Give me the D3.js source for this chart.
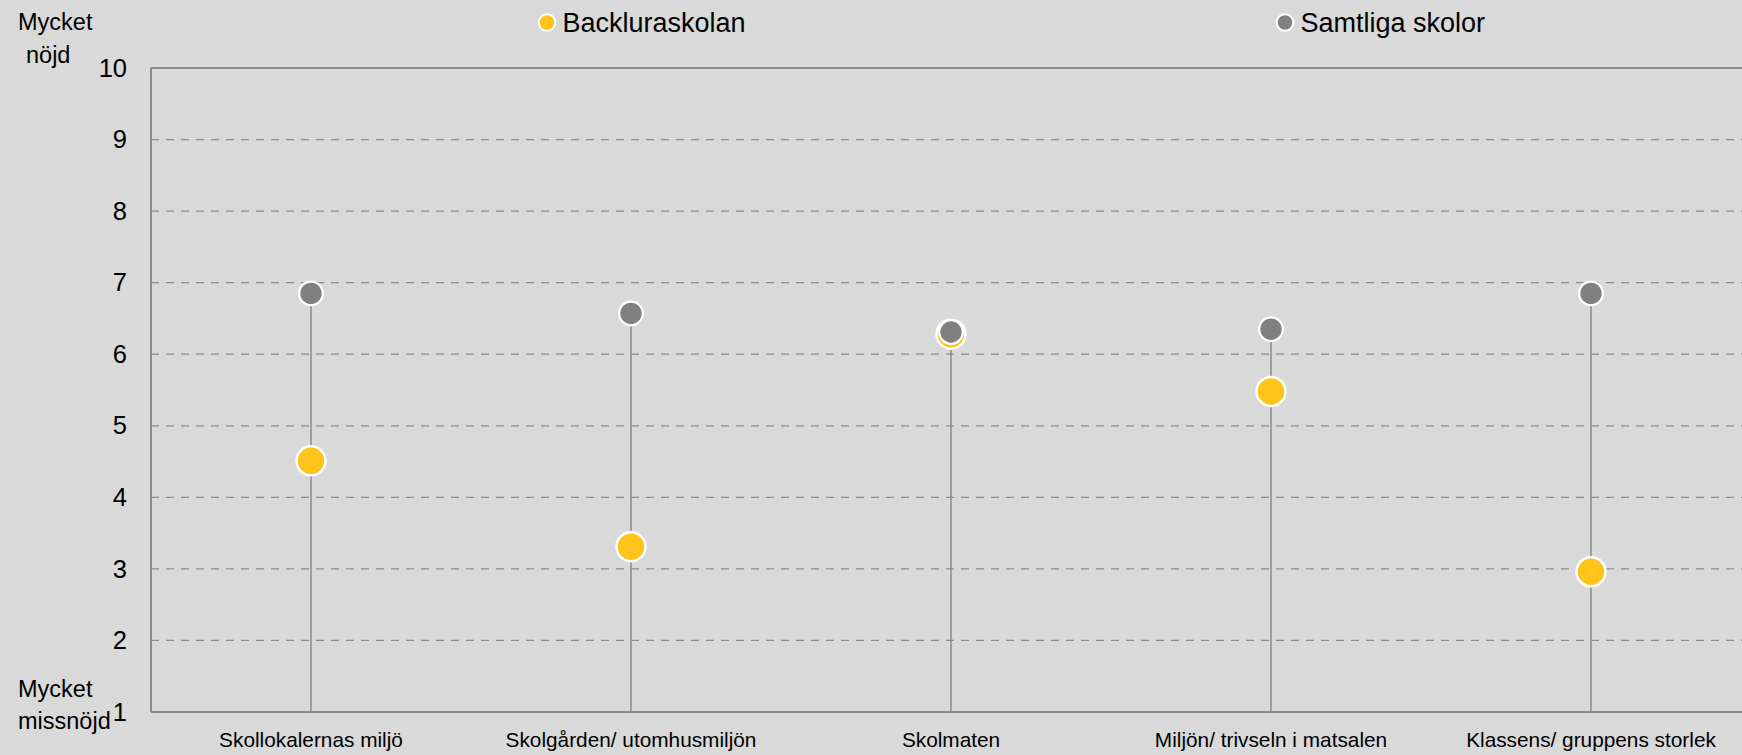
<!DOCTYPE html>
<html>
<head>
<meta charset="utf-8">
<script src="https://cdn.jsdelivr.net/npm/d3@7"></script>
<style>
  html, body { margin: 0; padding: 0; background: #d9d9d9; }
  svg { display: block; font-family: "Liberation Sans", Arial, sans-serif; }
</style>
</head>
<body>
<svg id="chart" width="1742" height="755"></svg>
<script>
const categories = ["Skollokalernas miljö", "Skolgården/ utomhusmiljön", "Skolmaten", "Miljön/ trivseln i matsalen", "Klassens/ gruppens storlek"];
const backluraskolan = [4.51, 3.31, 6.28, 5.48, 2.96];
const samtliga = [6.85, 6.57, 6.31, 6.35, 6.85];
const yTicks = [1, 2, 3, 4, 5, 6, 7, 8, 9, 10];
const seriesNames = ["Backluraskolan", "Samtliga skolor"];
const seriesColors = ["#ffc31a", "#808080"];

(function () {
const W = 1742, H = 755;
const mLeft = 151, mTop = 68, mBottom = 712, mRight = 1751;
const svg = d3.select("#chart");

const x = d3.scaleBand().domain(categories).range([mLeft, mRight]).padding(0);
const y = d3.scaleLinear().domain([1, 10]).range([mBottom, mTop]);

// gridlines (dashed) for 2..9
svg.append("g").selectAll("line")
  .data(yTicks.filter(v => v > 1 && v < 10))
  .join("line")
  .attr("x1", mLeft).attr("x2", W)
  .attr("y1", d => y(d)).attr("y2", d => y(d))
  .attr("stroke", "#8c8c8c").attr("stroke-width", 1.3)
  .attr("stroke-dasharray", "8,7");

// plot frame: top, left, bottom
const frame = svg.append("g").attr("stroke", "#8a8a8a").attr("stroke-width", 2).attr("fill", "none");
frame.append("line").attr("x1", mLeft).attr("x2", W).attr("y1", y(10)).attr("y2", y(10));
frame.append("line").attr("x1", mLeft).attr("x2", mLeft).attr("y1", y(10)).attr("y2", y(1));
frame.append("line").attr("x1", mLeft).attr("x2", W).attr("y1", y(1)).attr("y2", y(1));

// y axis labels
const yAxis = d3.axisLeft(y).tickValues(yTicks).tickSize(0).tickPadding(24).tickFormat(d3.format("d"));
const ya = svg.append("g").attr("transform", `translate(${mLeft},0)`).call(yAxis);
ya.select(".domain").remove();
ya.selectAll("text").attr("font-size", 25.5).attr("fill", "#000")
  .attr("font-family", "'Liberation Sans', Arial, sans-serif").attr("dy", "0.32em");

// x axis labels
const xAxis = d3.axisBottom(x).tickSize(0).tickPadding(20);
const xa = svg.append("g").attr("transform", `translate(0,${mBottom})`).call(xAxis);
xa.select(".domain").remove();
xa.selectAll("text").attr("font-size", 20.8).attr("fill", "#000")
  .attr("font-family", "'Liberation Sans', Arial, sans-serif");

// stems
const cx = c => x(c) + x.bandwidth() / 2;
svg.append("g").selectAll("line")
  .data(categories)
  .join("line")
  .attr("x1", d => cx(d)).attr("x2", d => cx(d))
  .attr("y1", y(1))
  .attr("y2", (d, i) => y(Math.max(backluraskolan[i], samtliga[i])))
  .attr("stroke", "#8a8a8a").attr("stroke-width", 1.5);

// dots: Backluraskolan then Samtliga (on top)
svg.append("g").selectAll("circle")
  .data(categories)
  .join("circle")
  .attr("cx", d => cx(d)).attr("cy", (d, i) => y(backluraskolan[i]))
  .attr("r", 14.5).attr("fill", seriesColors[0])
  .attr("stroke", "#fff").attr("stroke-width", 2.5);

svg.append("g").selectAll("circle")
  .data(categories)
  .join("circle")
  .attr("cx", d => cx(d)).attr("cy", (d, i) => y(samtliga[i]))
  .attr("r", 11.8).attr("fill", seriesColors[1])
  .attr("stroke", "#fff").attr("stroke-width", 2.2);

// legend
const legendX = [547, 1285];
const lg = svg.append("g").selectAll("g").data(seriesNames).join("g")
  .attr("transform", (d, i) => `translate(${legendX[i]},22.5)`);
lg.append("circle").attr("r", 8.3).attr("fill", (d, i) => seriesColors[i])
  .attr("stroke", "#fff").attr("stroke-width", 2);
lg.append("text").attr("x", 15.5).attr("y", 9.5).attr("font-size", 27).attr("fill", "#000").text(d => d);

// side annotations
const ann = svg.append("g").attr("font-size", 23.5).attr("fill", "#000");
ann.append("text").attr("x", 18).attr("y", 30).text("Mycket");
ann.append("text").attr("x", 26).attr("y", 63).text("nöjd");
ann.append("text").attr("x", 18).attr("y", 697).text("Mycket");
ann.append("text").attr("x", 18).attr("y", 729).text("missnöjd");
})();
</script>
</body>
</html>
